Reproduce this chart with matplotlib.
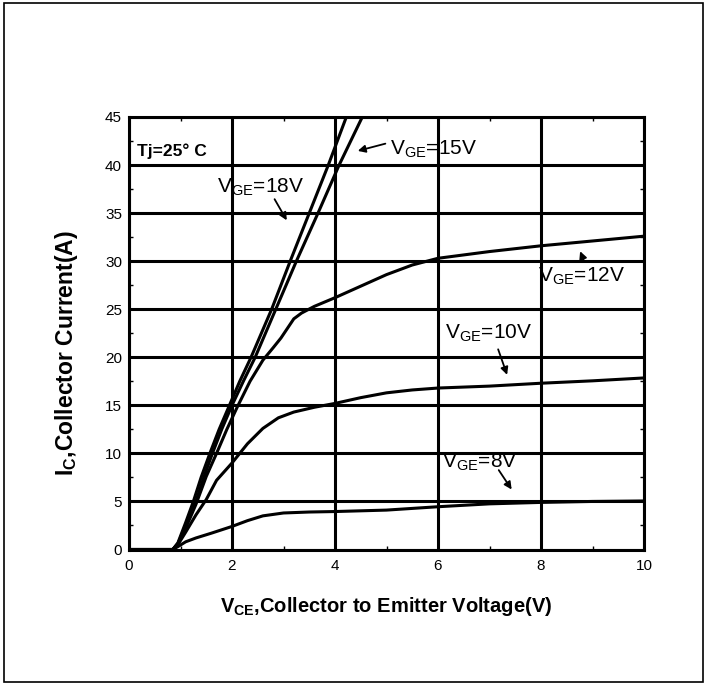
import numpy as np
import matplotlib
matplotlib.use('Agg')
import matplotlib.pyplot as plt
from matplotlib.patches import Rectangle

plt.rcParams['font.family'] = ['Liberation Sans Narrow', 'Liberation Sans', 'DejaVu Sans']
plt.rcParams['mathtext.fontset'] = 'custom'
plt.rcParams['mathtext.rm'] = 'Liberation Sans'
plt.rcParams['mathtext.bf'] = 'Liberation Sans:bold'

# output characteristics
vce_8 = [0, 0.85, 0.95, 1.1, 1.3, 1.6, 2.0, 2.3, 2.6, 3.0, 3.5, 4.0, 5.0, 6.0, 7.0, 8.0, 9.0, 10.0]
ic_8 = [0, 0, 0.3, 0.8, 1.2, 1.7, 2.4, 3.0, 3.5, 3.8, 3.9, 3.95, 4.1, 4.45, 4.75, 4.9, 5.0, 5.05]

vce_10 = [0, 0.85, 0.95, 1.1, 1.3, 1.5, 1.7, 2.0, 2.3, 2.6, 2.9, 3.2, 3.6, 4.0, 4.5, 5.0, 5.5, 6.0, 7.0, 8.0, 9.0, 10.0]
ic_10 = [0, 0, 0.5, 1.8, 3.6, 5.2, 7.2, 9.0, 11.0, 12.6, 13.7, 14.3, 14.8, 15.2, 15.8, 16.3, 16.6, 16.8, 17.0, 17.3, 17.55, 17.85]

vce_12 = [0, 0.85, 0.95, 1.1, 1.3, 1.5, 1.7, 1.9, 2.1, 2.35, 2.6, 2.8, 2.95, 3.1, 3.2, 3.35, 3.6, 4.0, 4.5, 5.0, 5.5, 6.0, 7.0, 8.0, 9.0, 10.0]
ic_12 = [0, 0, 0.6, 2.2, 4.7, 7.6, 10.0, 12.5, 14.8, 17.5, 19.7, 21.0, 22.0, 23.2, 24.0, 24.6, 25.3, 26.2, 27.4, 28.6, 29.6, 30.3, 31.0, 31.6, 32.1, 32.6]

vce_15 = [0, 0.85, 0.95, 1.1, 1.3, 1.45, 1.62, 1.8, 2.0, 2.22, 2.45, 2.65, 2.85, 3.05, 3.25, 3.67, 4.08, 4.53]
ic_15 = [0, 0, 0.6, 2.5, 5.0, 7.5, 10.0, 12.5, 15.0, 17.5, 20.0, 22.5, 25.0, 27.5, 30.0, 35.0, 40.0, 45.0]

vce_18 = [0, 0.85, 0.95, 1.1, 1.25, 1.4, 1.57, 1.75, 1.95, 2.15, 2.37, 2.57, 2.77, 2.95, 3.13, 3.5, 3.87, 4.22]
ic_18 = [0, 0, 0.7, 2.8, 5.0, 7.5, 10.0, 12.5, 15.0, 17.5, 20.0, 22.5, 25.0, 27.5, 30.0, 35.0, 40.0, 45.0]

curves = [(vce_8, ic_8), (vce_10, ic_10), (vce_12, ic_12), (vce_15, ic_15), (vce_18, ic_18)]

# label text, text position, arrow tail, arrow head
labels = ['V$_{\\mathrm{GE}}$=8V', 'V$_{\\mathrm{GE}}$=10V', 'V$_{\\mathrm{GE}}$=12V',
          'V$_{\\mathrm{GE}}$=15V', 'V$_{\\mathrm{GE}}$=18V']
label_pos = [(6.08, 8.5), (6.14, 22.0), (7.94, 27.9), (5.07, 41.1), (1.71, 37.2)]
arrow_tail = [(7.15, 8.5), (7.15, 21.1), (8.85, 29.8), (5.03, 42.3), (2.80, 36.7)]
arrow_head = [(7.46, 6.0), (7.36, 17.9), (8.74, 31.3), (4.39, 41.4), (3.09, 34.0)]

fig = plt.figure(figsize=(7.07, 6.84), dpi=100)
ax = fig.add_axes([129 / 707, 1 - 549.5 / 684, 515 / 707, 432.5 / 684])

for x, y in curves:
    ax.plot(x, y, color='black', lw=2.2, solid_capstyle='butt', zorder=3)

for lab, pos, t, h in zip(labels, label_pos, arrow_tail, arrow_head):
    ax.text(pos[0], pos[1], lab, fontsize=15, ha='left', va='baseline', zorder=4)
    ax.annotate('', xy=h, xytext=t,
                arrowprops=dict(arrowstyle='-|>', lw=1.3, color='black', mutation_scale=11))

ax.text(0.16, 40.9, 'Tj=25° C', fontsize=12.5, fontweight='bold', ha='left', va='baseline')

ax.set_xlim(0, 10)
ax.set_ylim(0, 45)
ax.set_xticks(np.arange(0, 11, 2))
ax.set_yticks(np.arange(0, 46, 5))
ax.set_xticks(np.arange(1, 10, 2), minor=True)
ax.set_yticks(np.arange(2.5, 45, 5), minor=True)
ax.grid(True, which='major', color='black', lw=2.2)
ax.tick_params(which='major', length=0, labelsize=11)
ax.tick_params(axis='x', which='major', pad=7)
ax.tick_params(axis='y', which='major', pad=5)
ax.tick_params(which='minor', length=3, width=1, direction='in', top=True, right=True)
for s in ax.spines.values():
    s.set_linewidth(2.2)

fig.text(386 / 707, 1 - 607 / 684, 'V$_{\\mathbf{CE}}$,Collector to Emitter Voltage(V)',
         fontsize=14.5, fontweight='bold', ha='center', va='center')
fig.text(67 / 707, 1 - 353 / 684, 'I$_{\\mathbf{C}}$,Collector Current(A)',
         fontsize=16.5, fontweight='bold', ha='center', va='center', rotation=90)

fig.add_artist(Rectangle((4 / 707, 2 / 684), 699 / 707, 679 / 684, transform=fig.transFigure,
                         fill=False, edgecolor='black', lw=1.2))

fig.savefig('out.png', dpi=100)
